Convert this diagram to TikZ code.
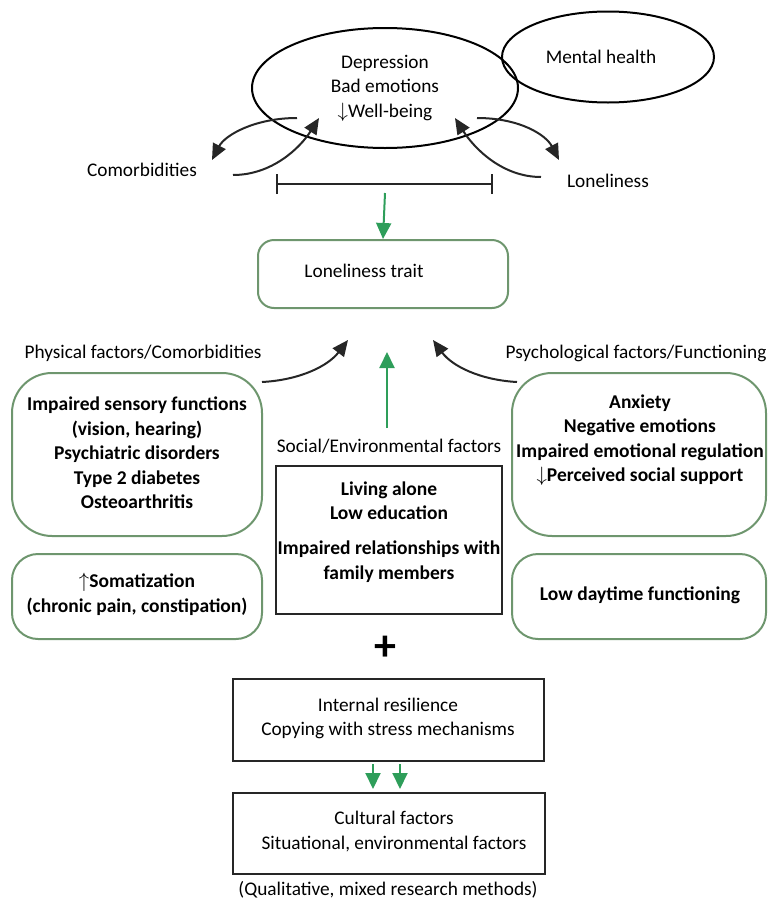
\documentclass[tikz,border=0pt]{standalone}
\usepackage{fontspec}
\setmainfont{Carlito}
\usetikzlibrary{arrows.meta,shapes.geometric}
\definecolor{boxgreen}{RGB}{110,150,110}
\definecolor{arrgreen}{RGB}{46,158,90}
\tikzset{
  txt/.style={font=\fontsize{19.3}{24.5}\selectfont, align=center, inner sep=0pt},
  btxt/.style={font=\fontsize{19.5}{24.5}\selectfont\bfseries, align=center, inner sep=0pt},
  ell/.style={draw=black, line width=2pt, ellipse, inner sep=0pt},
  gbox/.style={draw=boxgreen, line width=2pt},
  kbox/.style={draw=black!85, line width=2pt},
  blackarr/.style={draw=black!85, line width=2pt, -{Triangle[length=16pt,width=14pt]}},
  greenarr/.style={draw=arrgreen, line width=2pt, -{Triangle[length=16pt,width=15pt]}},
}
\begin{document}
\begin{tikzpicture}[x=1pt,y=-1pt]
\useasboundingbox (0,0) rectangle (769,900);
% top ellipses
\node[ell, minimum width=266pt, minimum height=120pt] (dep) at (385,88) {};
\node[txt] (deptxt) at (385,88) {Depression\\Bad emotions\\$\downarrow$Well-being};
\node[ell, minimum width=212pt, minimum height=91pt] (mh) at (608,57) {};
\node[txt] (mhtxt) at (601,57) {Mental health};
\node[txt] (comor) at (142,170) {Comorbidities};
\node[txt] (lonel) at (608,181) {Loneliness};
% curved arrows top
\coordinate (la1) at (297,118); \coordinate (la2) at (212,160);
\coordinate (lb1) at (233,175); \coordinate (lb2) at (319,118);
\coordinate (ra1) at (477,118); \coordinate (ra2) at (559,160);
\coordinate (rb1) at (541,177); \coordinate (rb2) at (455,118);
\draw[blackarr] (la1) .. controls (255,118) and (225,135) .. (la2);
\draw[blackarr] (lb1) .. controls (272,175) and (300,148) .. (lb2);
\draw[blackarr] (ra1) .. controls (520,118) and (546,135) .. (ra2);
\draw[blackarr] (rb1) .. controls (502,177) and (474,148) .. (rb2);
% bracket
\coordinate (brl) at (277,184); \coordinate (brr) at (492,184);
\draw[draw=black!85, line width=2pt] (brl) -- (brr);
\draw[draw=black!85, line width=2pt] ([yshift=-10pt]brl) -- ([yshift=10pt]brl);
\draw[draw=black!85, line width=2pt] ([yshift=-10pt]brr) -- ([yshift=10pt]brr);
% loneliness trait
\node[gbox, rounded corners=16pt, minimum width=250pt, minimum height=68pt] (trait) at (383,274) {};
\node[txt] (traittxt) at (364,271) {Loneliness trait};
\coordinate (g1s) at (385,193);
\draw[greenarr] (g1s) -- (trait.north);
% labels
\node[txt] (phys) at (143,353) {Physical factors/Comorbidities};
\node[txt] (psych) at (636,353) {Psychological factors/Functioning};
\node[txt] (social) at (389,446) {Social/Environmental factors};
% left boxes
\node[gbox, rounded corners=40pt, minimum width=250pt, minimum height=163pt] (lb) at (137,454.5) {};
\node[btxt] (lbtxt) at (137,453) {Impaired sensory functions\\(vision, hearing)\\Psychiatric disorders\\Type 2 diabetes\\Osteoarthritis};
\node[gbox, rounded corners=26pt, minimum width=250pt, minimum height=85pt] (lb2) at (137,596.5) {};
\node[btxt] (lb2txt) at (137,594.5) {$\uparrow$Somatization\\(chronic pain, constipation)};
% right boxes
\node[gbox, rounded corners=40pt, minimum width=254pt, minimum height=163pt] (rbx) at (639,454.5) {};
\node[btxt] (rbtxt) at (640,440) {Anxiety\\Negative emotions\\Impaired emotional regulation\\$\downarrow$Perceived social support};
\node[gbox, rounded corners=26pt, minimum width=254pt, minimum height=85pt] (rb2x) at (639,596.5) {};
\node[btxt] (rb2txt) at (640,595) {Low daytime functioning};
% center box
\node[kbox, minimum width=226pt, minimum height=148pt] (cb) at (389,540) {};
\node[btxt] (cb1) at (389,500.5) {Living alone\\Low education};
\node[btxt] (cb2) at (389,561.5) {Impaired relationships with\\family members};
% arrows to trait
\coordinate (pl1) at (262,382); \coordinate (pl2) at (348,340);
\coordinate (pr1) at (517,382); \coordinate (pr2) at (433,340);
\draw[blackarr] (pl1) .. controls (300,380) and (328,366) .. (pl2);
\draw[blackarr] (pr1) .. controls (480,380) and (452,366) .. (pr2);
\coordinate (gs) at (387,428); \coordinate (ge) at (387,352);
\draw[greenarr] (gs) -- (ge);
% plus
\node[font=\fontsize{44}{44}\selectfont\bfseries, inner sep=0pt] (plus) at (385,648) {+};
% resilience box
\node[kbox, minimum width=311pt, minimum height=82pt] (res) at (388.5,720) {};
\node[txt] (restxt) at (388,718.5) {Internal resilience\\Copying with stress mechanisms};
\node[kbox, minimum width=312pt, minimum height=81pt] (cult) at (389,833.5) {};
\node[txt] (culttxt) at (394,831.5) {Cultural factors\\Situational, environmental factors};
\coordinate (ga1) at (373,764); \coordinate (ga2) at (400,764);
\draw[greenarr] (ga1) -- (373,789);
\draw[greenarr] (ga2) -- (400,789);
\node[txt] (qual) at (388,890) {(Qualitative, mixed research methods)};
\end{tikzpicture}
\end{document}
